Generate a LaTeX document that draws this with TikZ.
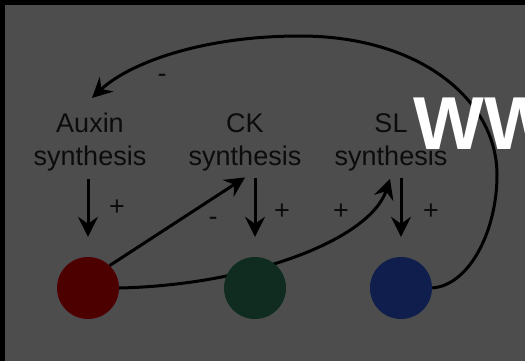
\documentclass[tikz,border=0pt]{standalone}
\usepackage{fontspec}
\setmainfont{Liberation Sans}
\usetikzlibrary{arrows.meta}
\definecolor{frame}{RGB}{0,0,0}
\definecolor{bg}{RGB}{77,77,77}
\definecolor{ink}{RGB}{12,12,12}
\definecolor{auxred}{RGB}{76,0,0}
\definecolor{ckgreen}{RGB}{16,43,31}
\definecolor{slblue}{RGB}{15,30,76}
\begin{document}
\begin{tikzpicture}[x=1pt,y=-1pt,
  hormone/.style={font=\fontsize{27}{33}\selectfont, text=ink, align=center, inner sep=0pt, anchor=north},
  sign/.style={font=\fontsize{27}{27}\selectfont, text=ink, inner sep=0pt},
  cell/.style={circle, minimum size=62pt, inner sep=0pt, draw=none},
  link/.style={line width=3pt, draw=black},
  arr/.style={link, -{Stealth[length=20pt,width=20pt,inset=7pt]}}]
  % frame and background
  \useasboundingbox (0,0) rectangle (525,361);
  \fill[frame] (0,0) rectangle (525,361);
  \fill[bg] (5,5) rectangle (525,361);

  % synthesis labels
  \node[hormone] (auxin) at (90,113) {Auxin\\synthesis};
  \node[hormone] (ck)    at (245,113) {CK\\synthesis};
  \node[hormone] (sl)    at (391,113) {SL\\synthesis};

  % cells
  \coordinate (rc) at (88,288);
  \coordinate (gc) at (255,288);
  \coordinate (bc) at (401,288);
  \node[cell] (r0) at (rc) {};
  \node[cell] (b0) at (bc) {};

  % auxin cell to SL synthesis, passing behind the CK cell
  \draw[arr] (r0.east) .. controls (250,285) and (370,240) .. ([xshift=-1pt,yshift=-8pt]sl.south);
  % SL cell feeding back to auxin synthesis
  \draw[arr] (b0.east) .. controls (470,285) and (497,230) .. (497,175)
     .. controls (497,100) and (420,36) .. (300,36)
     .. controls (200,36) and (128,64) .. ([xshift=2pt,yshift=15pt]auxin.north);

  \node[cell, fill=auxred]  (r) at (rc) {};
  \node[cell, fill=ckgreen] (g) at (gc) {};
  \node[cell, fill=slblue]  (b) at (bc) {};

  % auxin cell to CK synthesis
  \draw[arr] (r.46) -- ([yshift=-6.6pt]ck.south);

  % synthesis to cells
  \draw[arr, shorten <=7.6pt, shorten >=20pt] (r.north |- auxin.south) -- (r.north);
  \draw[arr, shorten <=7.6pt, shorten >=20pt] (g.north |- ck.south) -- (g.north);
  \draw[arr, shorten <=7.6pt, shorten >=20pt] (b.north |- sl.south) -- (b.north);

  % signs
  \node[sign] (p1) at (117,208) {+};
  \node[sign] (p2) at (282,212) {+};
  \node[sign] (p3) at (341,212) {+};
  \node[sign] (p4) at (431,212) {+};
  \node[sign] (m1) at (213,221) {-};
  \node[sign] (m2) at (162,78) {-};

  % watermark
  \begin{scope}
    \clip (5,5) rectangle (525,361);
    \node[font=\fontsize{75}{75}\selectfont\bfseries, text=white, anchor=base west, inner sep=0pt] (wm) at (413,149) {WW};
  \end{scope}
\end{tikzpicture}
\end{document}
